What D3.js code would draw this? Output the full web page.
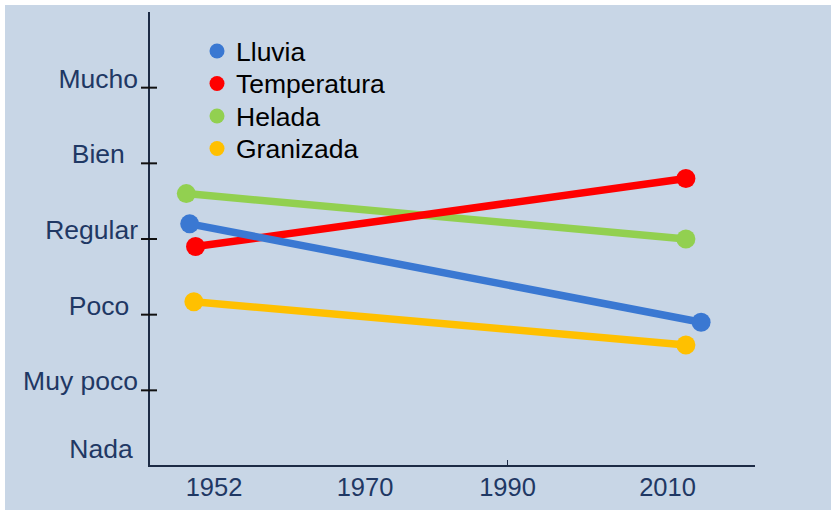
<!DOCTYPE html>
<html>
<head>
<meta charset="utf-8">
<script src="https://cdn.jsdelivr.net/npm/d3@7"></script>
<style>
  body { margin: 0; background: #fff; }
  svg { display: block; }
  text { font-family: "Liberation Sans", Arial, Helvetica, sans-serif; }
</style>
</head>
<body>
<div id="chart"></div>
<script>
// series, legend order
const seriesNames = ["Lluvia", "Temperatura", "Helada", "Granizada"]
const seriesColors = ["#3a78d2", "#ff0000", "#92d050", "#ffc000"]

// [year, value] pairs (0 = Nada ... 5 = Mucho)
const lluvia = [[1949.1, 3.2], [2014.2, 1.9]]
const temperatura = [[1949.8, 2.9], [2012.3, 3.8]]
const helada = [[1948.7, 3.6], [2012.3, 3.0]]
const granizada = [[1949.6, 2.17], [2012.3, 1.6]]

const yTickValues = [0, 1, 2, 3, 4, 5]
const yTickLabels = ["Nada\u2009", "Muy poco", "Poco\u2004", "Regular", "Bien\u2002", "Mucho"]
const xTickValues = [1952, 1970, 1990, 2010]

const W = 831, H = 510
const svg = d3.select("#chart").append("svg")
  .attr("width", W)
  .attr("height", H)

svg.append("rect")
  .attr("x", 5).attr("y", 5)
  .attr("width", W - 5).attr("height", H - 5)
  .attr("fill", "#c8d6e6")

// the year axis in the original is not evenly spaced
const x = d3.scaleLinear()
  .domain(xTickValues)
  .range([214, 365, 507.5, 667.5])
const xLeft = 149, xRight = 755

const y = d3.scaleLinear()
  .domain([0, 6])
  .range([466, 12])

const axisColor = "#1c2b45"
const labelColor = "#1f3864"

// axes
svg.append("line")
  .attr("x1", xLeft).attr("x2", xLeft)
  .attr("y1", y(6)).attr("y2", y(0) + 1)
  .attr("stroke", axisColor).attr("stroke-width", 2)

svg.append("line")
  .attr("x1", xLeft - 1).attr("x2", xRight)
  .attr("y1", y(0)).attr("y2", y(0))
  .attr("stroke", axisColor).attr("stroke-width", 2)

svg.selectAll(".ytick")
  .data(yTickValues.filter(d => d > 0))
  .join("line")
    .attr("class", "ytick")
    .attr("x1", xLeft - 8).attr("x2", xLeft + 8)
    .attr("y1", d => y(d)).attr("y2", d => y(d))
    .attr("stroke", "#111").attr("stroke-width", 2)

svg.selectAll(".ylabel")
  .data(yTickValues)
  .join("text")
    .attr("class", "ylabel")
    .attr("x", 138)
    .attr("y", d => d === 0 ? y(d) - 8 : y(d))
    .attr("text-anchor", "end")
    .attr("font-size", 26.5)
    .attr("fill", labelColor)
    .style("white-space", "pre")
    .text((d, i) => yTickLabels[i])

svg.selectAll(".xlabel")
  .data(xTickValues)
  .join("text")
    .attr("class", "xlabel")
    .attr("x", d => x(d))
    .attr("y", y(0) + 30)
    .attr("text-anchor", "middle")
    .attr("font-size", 25.5)
    .attr("fill", labelColor)
    .text(d => d)

// little inner tick that shows at 1990
svg.append("line")
  .attr("x1", x(1990)).attr("x2", x(1990))
  .attr("y1", y(0) - 6).attr("y2", y(0))
  .attr("stroke", axisColor).attr("stroke-width", 1)

// lines, last series drawn first so Lluvia ends on top
const allSeries = [lluvia, temperatura, helada, granizada]
  .map((pts, i) => ({ name: seriesNames[i], color: seriesColors[i], pts }))

const line = d3.line()
  .x(d => x(d[0]))
  .y(d => y(d[1]))

const g = svg.selectAll(".series")
  .data(allSeries.slice().reverse())
  .join("g")
    .attr("class", "series")

g.append("path")
  .attr("d", d => line(d.pts))
  .attr("fill", "none")
  .attr("stroke", d => d.color)
  .attr("stroke-width", 7.5)

g.selectAll("circle")
  .data(d => d.pts.map(p => ({ p, color: d.color })))
  .join("circle")
    .attr("cx", d => x(d.p[0]))
    .attr("cy", d => y(d.p[1]))
    .attr("r", 9.5)
    .attr("fill", d => d.color)

// legend
const legend = svg.append("g")
  .attr("transform", "translate(217,51)")

const item = legend.selectAll("g")
  .data(allSeries)
  .join("g")
    .attr("transform", (d, i) => `translate(0,${i * 32.5})`)

item.append("circle")
  .attr("r", 7.5)
  .attr("fill", d => d.color)

item.append("text")
  .attr("x", 19)
  .attr("y", 9.5)
  .attr("font-size", 26.5)
  .attr("fill", "#000")
  .text(d => d.name)
</script>
</body>
</html>
